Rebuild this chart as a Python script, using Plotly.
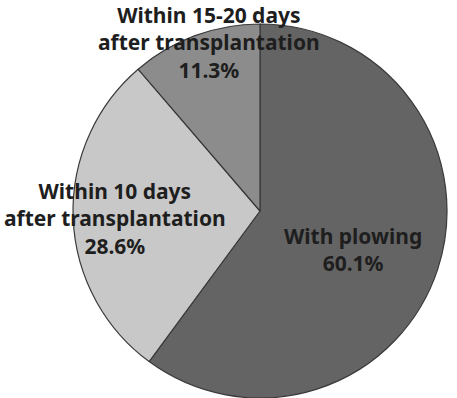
import plotly.graph_objects as go

labels = ["With plowing", "Within 10 days<br>after transplantation", "Within 15-20 days<br>after transplantation"]
values = [60.1, 28.6, 11.3]
colors = ["#646464", "#c8c8c8", "#8c8c8c"]
# label anchor positions in pixels
label_x = [353, 115, 209]
label_y = [249, 218, 43]

W, H = 457, 398
cx, cy, r = 260, 211, 187

fig = go.Figure(go.Pie(
    labels=labels, values=values, sort=False, direction="clockwise", rotation=0,
    marker=dict(colors=colors, line=dict(color="#3a3a3a", width=1.2)),
    textinfo="none", hoverinfo="label+percent", showlegend=False,
    domain=dict(x=[(cx - r) / W, (cx + r) / W], y=[(H - cy - r) / H, (H - cy + r) / H]),
))

for lab, v, x, y in zip(labels, values, label_x, label_y):
    fig.add_annotation(
        x=x / W, y=1 - y / H, xref="paper", yref="paper",
        text=f"{lab}<br>{v:.1f}%", showarrow=False, align="center",
        font=dict(family="Noto Sans", size=21, color="#1e1e1e", weight="bold"),
        xanchor="center", yanchor="middle",
    )

fig.update_layout(
    width=W, height=H, margin=dict(l=0, r=0, t=0, b=0),
    paper_bgcolor="white", plot_bgcolor="white",
)
fig.write_html("out.html")
